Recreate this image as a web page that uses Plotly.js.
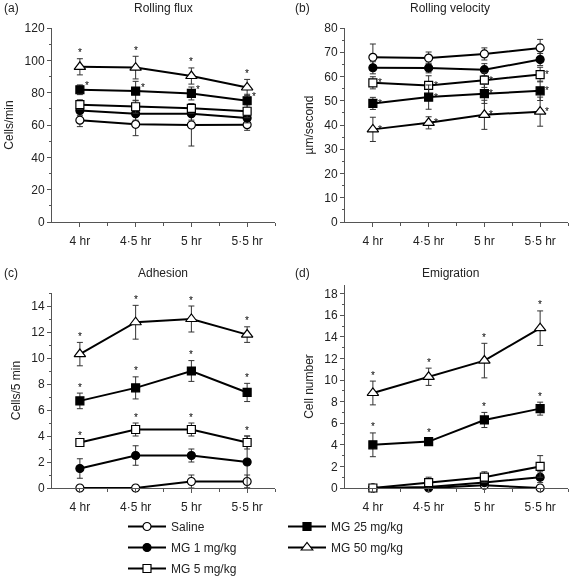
<!DOCTYPE html>
<html>
<head>
<meta charset="utf-8">
<script src="https://cdn.plot.ly/plotly-3.0.1.min.js"></script>
<style>html,body{margin:0;padding:0;background:#fff}#chart{width:570px;height:576px;filter:grayscale(1)}</style>
</head>
<body>
<div id="chart"></div>
<script>
// ---- categories / labels ----
const timeVals = [0, 1, 2, 3];
const timeLabels = ['4 hr', '4·5 hr', '5 hr', '5·5 hr'];
const groupNames = ['Saline', 'MG 1 mg/kg', 'MG 5 mg/kg', 'MG 25 mg/kg', 'MG 50 mg/kg'];

// ---- (a) Rolling flux (cells/min) ----
const fluxSaline = [63, 60.4, 60, 60.2];
const fluxSalineErr = [4, 7, 13, 3.5];
const fluxMG1 = [69, 67, 67, 64.3];
const fluxMG1Err = [3, 4, 4, 3];
const fluxMG5 = [72.6, 71.3, 70.3, 68.5];
const fluxMG5Err = [3, 4, 3, 4];
const fluxMG25 = [81.8, 81, 79.5, 75];
const fluxMG25Err = [3, 6, 4, 4];
const fluxMG50 = [96, 95.5, 90.3, 83.2];
const fluxMG50Err = [5, 7, 5, 5];
const fluxStars = [false, false, false, true, true];

// ---- (b) Rolling velocity (µm/second) ----
const velSaline = [67.9, 67.6, 69.3, 71.8];
const velSalineErr = [5.5, 2.5, 2.5, 3.5];
const velMG1 = [63.6, 63.5, 62.8, 67];
const velMG1Err = [2.5, 2, 2.5, 2.5];
const velMG5 = [57.4, 56.3, 58.5, 60.8];
const velMG5Err = [2.5, 4, 3, 3];
const velMG25 = [48.9, 51.5, 52.9, 54.1];
const velMG25Err = [2.5, 5, 4, 4];
const velMG50 = [38.2, 40.9, 44.2, 45.5];
const velMG50Err = [5, 2.5, 6, 6];
const velStars = [false, false, true, true, true];

// ---- (c) Adhesion (cells/5 min) ----
const adhSaline = [0, 0, 0.5, 0.5];
const adhSalineErr = [0, 0, 0.5, 0.5];
const adhMG1 = [1.5, 2.5, 2.5, 2.0];
const adhMG1Err = [0.75, 0.75, 0.5, 2];
const adhMG5 = [3.5, 4.5, 4.5, 3.5];
const adhMG5Err = [0.1, 0.5, 0.5, 0.5];
const adhMG25 = [6.7, 7.7, 9.0, 7.35];
const adhMG25Err = [0.6, 0.85, 0.8, 0.7];
const adhMG50 = [10.3, 12.75, 13.0, 11.8];
const adhMG50Err = [0.9, 1.3, 1.0, 0.6];
const adhStars = [false, false, true, true, true];

// ---- (d) Emigration (cell number) ----
const emiSaline = [0, 0, 0.25, 0];
const emiSalineErr = [0, 0, 0.25, 0];
const emiMG1 = [0, 0.1, 0.5, 1.0];
const emiMG1Err = [0, 0.1, 0.3, 0.5];
const emiMG5 = [0, 0.5, 1.0, 2.0];
const emiMG5Err = [0, 0.5, 0.5, 1.0];
const emiMG25 = [4.0, 4.3, 6.3, 7.35];
const emiMG25Err = [1.1, 0.3, 0.7, 0.6];
const emiMG50 = [8.8, 10.3, 11.8, 14.8];
const emiMG50Err = [1.1, 0.8, 1.6, 1.6];
const emiStars = [false, false, false, true, true];

// ---- styles ----
const FONT = 'Liberation Sans, Arial, sans-serif';
const markerStyles = [
  {symbol: 'circle', color: '#fff', size: 8},
  {symbol: 'circle', color: '#000', size: 8},
  {symbol: 'square', color: '#fff', size: 8},
  {symbol: 'square', color: '#000', size: 8},
  {symbol: 'triangle-up', color: '#fff', size: 10}
];

const panels = [
  {xa: 'x', ya: 'y', series: [fluxSaline, fluxMG1, fluxMG5, fluxMG25, fluxMG50],
   errs: [fluxSalineErr, fluxMG1Err, fluxMG5Err, fluxMG25Err, fluxMG50Err], stars: fluxStars,
   starMode: ['above', 'above', 'above', 'right', 'above']},
  {xa: 'x2', ya: 'y2', series: [velSaline, velMG1, velMG5, velMG25, velMG50],
   errs: [velSalineErr, velMG1Err, velMG5Err, velMG25Err, velMG50Err], stars: velStars,
   starMode: ['side', 'side', 'side', 'side', 'side']},
  {xa: 'x3', ya: 'y3', series: [adhSaline, adhMG1, adhMG5, adhMG25, adhMG50],
   errs: [adhSalineErr, adhMG1Err, adhMG5Err, adhMG25Err, adhMG50Err], stars: adhStars,
   starMode: ['above', 'above', 'above', 'above', 'above']},
  {xa: 'x4', ya: 'y4', series: [emiSaline, emiMG1, emiMG5, emiMG25, emiMG50],
   errs: [emiSalineErr, emiMG1Err, emiMG5Err, emiMG25Err, emiMG50Err], stars: emiStars,
   starMode: ['above', 'above', 'above', 'above', 'above']}
];

const traces = [];
const annotations = [];
panels.forEach((p, pi) => {
  p.series.forEach((vals, gi) => {
    const m = markerStyles[gi];
    traces.push({
      type: 'scatter', mode: 'lines+markers',
      x: timeVals, y: vals,
      xaxis: p.xa, yaxis: p.ya,
      name: groupNames[gi],
      showlegend: pi === 0,
      legend: gi < 3 ? 'legend' : 'legend2',
      legendgroup: 'g' + gi,
      line: {color: '#000', width: 2},
      marker: {symbol: m.symbol, size: m.size, color: m.color, line: {color: '#000', width: 1.2}},
      error_y: {type: 'data', array: p.errs[gi], visible: true, color: '#333', thickness: 1, width: 3},
      cliponaxis: false
    });
    if (p.stars[gi]) {
      vals.forEach((v, i) => {
        const mode = p.starMode[gi];
        let ann = {xref: p.xa, yref: p.ya, x: timeVals[i], showarrow: false,
                   text: '*', font: {family: FONT, size: 10, color: '#000'}};
        if (mode === 'above') { ann.y = v + p.errs[gi][i]; ann.yshift = 6; }
        else if (mode === 'right') { ann.y = v; ann.xshift = 7; ann.yshift = 4; }
        else { ann.y = v; ann.xshift = 7; ann.yshift = 0; }
        annotations.push(ann);
      });
    }
  });
});

// panel titles and letters
const titleFont = {family: FONT, size: 12, color: '#222'};
[['(a)', 0.004, 'Rolling flux', 0.286, 0.986],
 ['(b)', 0.514, 'Rolling velocity', 0.790, 0.986],
 ['(c)', 0.004, 'Adhesion', 0.286, 0.526],
 ['(d)', 0.514, 'Emigration', 0.790, 0.526]].forEach(t => {
  annotations.push({xref: 'paper', yref: 'paper', x: t[1], y: t[4], xanchor: 'left', yanchor: 'middle',
    text: t[0], showarrow: false, font: titleFont});
  annotations.push({xref: 'paper', yref: 'paper', x: t[3], y: t[4], xanchor: 'center', yanchor: 'middle',
    text: t[2], showarrow: false, font: titleFont});
});

const W = 570, H = 576;
function xd(a, b) { return [a / W, b / W]; }
function yd(top, bottom) { return [1 - bottom / H, 1 - top / H]; }

function xAxis(dom, anchor) {
  return {
    domain: dom, anchor: anchor, range: [-0.5, 3.5], tickmode: 'array',
    tickvals: timeVals, ticktext: timeLabels, showline: true, linecolor: '#555', linewidth: 1,
    ticks: 'outside', ticklen: 4, tickcolor: '#555', showgrid: false, zeroline: false,
    ticklabelstandoff: 4, automargin: false,
    tickfont: {family: FONT, size: 12, color: '#222'}, fixedrange: true,
    minor: {tickmode: 'array', tickvals: [0.5, 1.5, 2.5, 3.5], ticks: 'outside', ticklen: 3, tickcolor: '#555', showgrid: false}
  };
}
function yAxis(dom, anchor, range, dtick, minorD, title) {
  return {
    domain: dom, anchor: anchor, range: range, dtick: dtick, tick0: 0,
    showline: true, linecolor: '#555', linewidth: 1, automargin: false,
    ticks: 'outside', ticklen: 4, tickcolor: '#555', showgrid: false, zeroline: false,
    tickfont: {family: FONT, size: 12, color: '#222'}, fixedrange: true,
    minor: {dtick: minorD, tick0: 0, ticks: 'outside', ticklen: 2, tickcolor: '#555', showgrid: false},
    title: {text: title, font: {family: FONT, size: 12, color: '#222'}, standoff: 8}
  };
}

const legendCommon = {xanchor: 'left', yanchor: 'top', orientation: 'v', itemwidth: 38,
  traceorder: 'grouped', tracegroupgap: 2, bgcolor: 'rgba(0,0,0,0)',
  font: {family: FONT, size: 12, color: '#222'}};

const layout = {
  width: W, height: H,
  margin: {l: 0, r: 0, t: 0, b: 0, autoexpand: false},
  paper_bgcolor: '#fff', plot_bgcolor: '#fff',
  font: {family: FONT, size: 12, color: '#222'},
  xaxis: xAxis(xd(52, 275), 'y'),
  yaxis: yAxis(yd(28, 222), 'x', [0, 120], 20, 10, 'Cells/min'),
  xaxis2: xAxis(xd(345, 568), 'y2'),
  yaxis2: yAxis(yd(28, 222), 'x2', [0, 80], 10, 5, 'µm/second'),
  xaxis3: xAxis(xd(52, 275), 'y3'),
  yaxis3: yAxis(yd(293, 488), 'x3', [0, 15], 2, 1, 'Cells/5 min'),
  xaxis4: xAxis(xd(345, 568), 'y4'),
  yaxis4: yAxis(yd(285, 488), 'x4', [0, 18.8], 2, 1, 'Cell number'),
  legend: Object.assign({x: 123 / W, y: 1 - 512 / H}, legendCommon),
  legend2: Object.assign({x: 283 / W, y: 1 - 512 / H}, legendCommon),
  annotations: annotations,
  showlegend: true
};

Plotly.newPlot('chart', traces, layout, {displayModeBar: false, staticPlot: true});
</script>
</body>
</html>
